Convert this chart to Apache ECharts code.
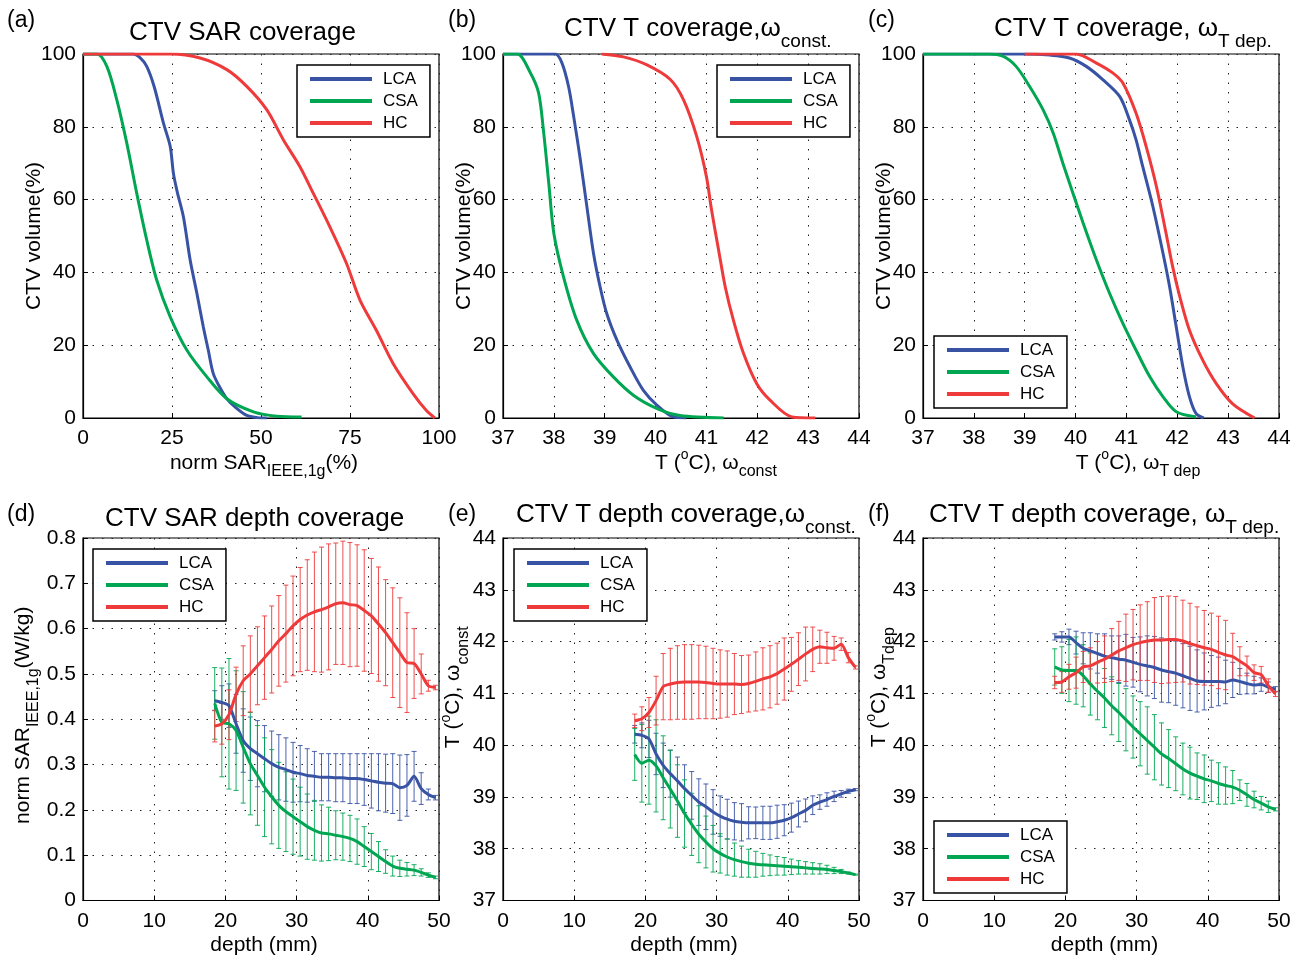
<!DOCTYPE html>
<html><head><meta charset="utf-8">
<script src="https://cdn.jsdelivr.net/npm/echarts@6.0.0/dist/echarts.min.js"></script>
<style>html,body{margin:0;padding:0;background:#fff}#c{width:1302px;height:962px}</style>
</head><body><div id="c"></div>
<script>
// ---------- data: top row (cumulative coverage curves) ----------
const aLcaX = [0, 14, 16, 17.9, 20, 22.6, 24.5, 25.4, 26.5, 28.2, 30.1, 32, 33.8, 35.2, 36.6, 38.5, 40.4, 43, 46, 49, 51.6];
const aLcaY = [100, 100, 99, 96.6, 91, 81, 74.6, 67.2, 62, 55.3, 43.4, 34.2, 25, 18.6, 12.2, 8.3, 5.3, 2.8, 0.7, 0.1, 0];
const aCsaX = [0, 3.9, 6.7, 9.5, 12.3, 15.1, 17.9, 20.7, 24.5, 29.2, 34.8, 40.4, 47.9, 54.4, 61.4];
const aCsaY = [100, 100, 96.6, 87.4, 75.5, 61.7, 48.9, 37.9, 27.8, 18.6, 11.3, 5.3, 1.7, 0.5, 0.3];
const aHcX = [0, 24.5, 32.9, 40.4, 46, 51.6, 56.3, 60.9, 64.7, 69.3, 74, 77.8, 82.4, 87.1, 92.7, 96.4, 98.8];
const aHcY = [100, 100, 98.9, 95.7, 91.1, 84.7, 76.4, 69.1, 61.7, 52.6, 42.5, 32.4, 24.1, 15, 6.7, 2.1, 0];

const bLcaX = [37, 38.03, 38.16, 38.29, 38.39, 38.52, 38.65, 38.78, 38.91, 39.04, 39.24, 39.5, 39.76, 40.03, 40.35, 40.6];
const bLcaY = [100, 100, 97.5, 91, 82.8, 71, 58, 45.2, 36, 28.7, 21.4, 14, 7.6, 3.5, 0.3, 0];
const bCsaX = [37, 37.28, 37.54, 37.7, 37.8, 37.9, 38.0, 38.19, 38.45, 38.78, 39.17, 39.57, 40.03, 40.48, 41.34];
const bCsaY = [100, 100, 94.8, 89.3, 78.4, 64.5, 50.7, 38.8, 26.9, 17.7, 11.3, 6.2, 2.6, 0.7, 0];
const bHcX = [38.94, 39.37, 39.83, 40.29, 40.55, 40.81, 41.0, 41.1, 41.24, 41.37, 41.53, 41.73, 41.99, 42.25, 42.68, 43.14];
const bHcY = [100, 99.2, 97, 93, 87.4, 77.3, 66.3, 57.2, 46.1, 36, 26.9, 17.7, 9.4, 4.9, 0.3, 0];

const cLcaX = [37, 39.0, 39.5, 39.88, 40.21, 40.54, 40.87, 41.06, 41.19, 41.32, 41.52, 41.72, 41.85, 41.98, 42.11, 42.24, 42.37, 42.52];
const cLcaY = [100, 100, 99.7, 98.9, 96.6, 92.9, 88.3, 81.9, 76.4, 69.1, 58.1, 45.2, 36, 25, 14, 5.8, 1.2, 0];
const cCsaX = [37, 38.3, 38.57, 38.83, 39.1, 39.36, 39.56, 39.75, 39.95, 40.15, 40.41, 40.67, 40.93, 41.19, 41.46, 41.72, 41.98, 42.37];
const cCsaY = [100, 100, 99.4, 96.6, 91, 84.7, 78.3, 70, 61.7, 53.5, 43.4, 34.2, 26, 18.6, 11.3, 5.8, 1.7, 0.3];
const cHcX = [39.0, 40.01, 40.41, 40.73, 40.93, 41.19, 41.39, 41.59, 41.78, 41.91, 42.05, 42.24, 42.5, 42.77, 43.09, 43.52];
const cHcY = [100, 100, 97.5, 94.8, 92, 83.7, 74.5, 63.6, 50.7, 41.5, 33.3, 24.1, 15.9, 9.4, 3.9, 0];

// ---------- data: bottom row (depth profiles, mean and spread) ----------
const depth = [18.5, 19.5, 20.5, 21.5, 22.5, 23.5, 24.5, 25.5, 26.5, 27.5, 28.5, 29.5, 30.5, 31.5, 32.5, 33.5,
               34.5, 35.5, 36.5, 37.5, 38.5, 39.5, 40.5, 41.5, 42.5, 43.5, 44.5, 45.5, 46.5, 47.5, 48.5, 49.5];

const dLcaMean = [0.441,0.437,0.43,0.39,0.353,0.335,0.324,0.313,0.302,0.294,0.289,0.283,0.28,0.276,0.274,0.272,0.272,0.271,0.271,0.269,0.269,0.267,0.264,0.261,0.259,0.258,0.249,0.254,0.274,0.247,0.234,0.227];
const dLcaSd   = [0.022,0.037,0.048,0.065,0.07,0.07,0.073,0.073,0.072,0.072,0.07,0.066,0.062,0.059,0.055,0.052,0.052,0.053,0.053,0.055,0.055,0.057,0.06,0.063,0.064,0.066,0.072,0.068,0.055,0.035,0.012,0.005];
const dCsaMean = [0.435,0.393,0.39,0.375,0.338,0.302,0.276,0.25,0.229,0.21,0.196,0.185,0.174,0.163,0.155,0.149,0.147,0.144,0.141,0.137,0.13,0.119,0.108,0.097,0.086,0.076,0.071,0.069,0.067,0.062,0.056,0.051];
const dCsaSd   = [0.079,0.12,0.144,0.132,0.123,0.113,0.11,0.109,0.104,0.095,0.088,0.083,0.076,0.072,0.066,0.062,0.059,0.054,0.052,0.051,0.05,0.044,0.04,0.033,0.026,0.022,0.018,0.015,0.012,0.008,0.005,0.003];
const dHcMean  = [0.385,0.39,0.41,0.455,0.485,0.50,0.518,0.536,0.554,0.573,0.589,0.606,0.62,0.63,0.637,0.642,0.648,0.655,0.657,0.653,0.651,0.64,0.628,0.61,0.591,0.569,0.547,0.525,0.523,0.50,0.474,0.47];
const dHcSd    = [0.035,0.045,0.055,0.06,0.077,0.084,0.086,0.092,0.096,0.1,0.107,0.11,0.115,0.122,0.132,0.138,0.139,0.134,0.136,0.137,0.134,0.134,0.127,0.126,0.117,0.121,0.121,0.11,0.077,0.044,0.012,0.005];

const eLcaMean = [40.21,40.19,40.12,39.83,39.61,39.45,39.31,39.16,39.03,38.9,38.81,38.71,38.63,38.57,38.53,38.51,38.5,38.5,38.5,38.5,38.52,38.55,38.6,38.67,38.74,38.84,38.9,38.95,39.01,39.06,39.11,39.14];
const eLcaSd   = [0.17,0.24,0.36,0.4,0.43,0.455,0.46,0.46,0.46,0.45,0.44,0.43,0.39,0.385,0.36,0.36,0.31,0.305,0.32,0.32,0.32,0.3,0.28,0.25,0.22,0.18,0.14,0.13,0.1,0.065,0.04,0.02];
const eCsaMean = [39.82,39.65,39.71,39.6,39.37,39.15,38.92,38.68,38.47,38.28,38.13,38.0,37.91,37.84,37.79,37.75,37.72,37.7,37.69,37.68,37.67,37.66,37.65,37.64,37.63,37.62,37.61,37.6,37.58,37.56,37.53,37.5];
const eCsaSd   = [0.5,0.75,0.85,0.89,0.81,0.75,0.7,0.65,0.6,0.55,0.5,0.45,0.38,0.35,0.32,0.3,0.27,0.25,0.22,0.2,0.18,0.17,0.15,0.13,0.12,0.11,0.1,0.08,0.06,0.04,0.02,0.01];
const eHcMean  = [40.47,40.51,40.63,40.86,41.13,41.18,41.21,41.22,41.22,41.22,41.21,41.19,41.18,41.18,41.18,41.17,41.19,41.23,41.28,41.32,41.38,41.47,41.56,41.66,41.76,41.85,41.9,41.88,41.87,41.95,41.69,41.5];
const eHcSd    = [0.13,0.23,0.29,0.47,0.64,0.69,0.71,0.72,0.72,0.71,0.7,0.68,0.66,0.64,0.59,0.56,0.55,0.57,0.6,0.6,0.59,0.6,0.52,0.51,0.52,0.43,0.32,0.3,0.23,0.12,0.1,0.03];

const fLcaMean = [42.09,42.09,42.09,41.98,41.87,41.82,41.77,41.72,41.69,41.66,41.64,41.6,41.56,41.53,41.5,41.45,41.42,41.39,41.34,41.29,41.24,41.23,41.23,41.23,41.22,41.26,41.23,41.19,41.16,41.17,41.12,41.08];
const fLcaSd   = [0.06,0.1,0.15,0.22,0.3,0.35,0.38,0.43,0.42,0.45,0.5,0.48,0.53,0.58,0.6,0.62,0.6,0.62,0.62,0.62,0.6,0.55,0.5,0.47,0.42,0.34,0.25,0.2,0.17,0.13,0.1,0.05];
const fCsaMean = [41.51,41.45,41.44,41.44,41.34,41.18,41.04,40.91,40.76,40.63,40.49,40.35,40.22,40.09,39.96,39.83,39.74,39.64,39.54,39.46,39.4,39.35,39.31,39.26,39.22,39.19,39.13,39.04,38.95,38.88,38.81,38.76];
const fCsaSd   = [0.35,0.45,0.6,0.65,0.6,0.6,0.55,0.57,0.56,0.56,0.6,0.6,0.62,0.65,0.63,0.6,0.56,0.52,0.5,0.5,0.45,0.46,0.4,0.4,0.36,0.32,0.2,0.22,0.16,0.13,0.11,0.03];
const fHcMean  = [41.21,41.22,41.32,41.4,41.51,41.53,41.6,41.66,41.74,41.82,41.88,41.94,41.98,42.01,42.03,42.03,42.04,42.04,42.01,41.96,41.92,41.88,41.85,41.79,41.74,41.71,41.62,41.53,41.4,41.36,41.15,40.99];
const fHcSd    = [0.12,0.2,0.24,0.3,0.3,0.35,0.4,0.45,0.51,0.57,0.65,0.68,0.73,0.76,0.82,0.84,0.84,0.83,0.79,0.78,0.75,0.72,0.7,0.7,0.67,0.45,0.28,0.19,0.15,0.16,0.13,0.05];

// ---------- labels ----------
const seriesNames = ['LCA', 'CSA', 'HC'];
const panelLabels = ['(a)', '(b)', '(c)', '(d)', '(e)', '(f)'];

// ---------- styling ----------
const FONT = '"Liberation Sans", Arial, Helvetica, sans-serif';
const COL = { LCA: '#3853A4', CSA: '#00A651', HC: '#EE3A3A' };

function richSet(mainSize, subSize, subPad, lh) {
  return {
    m: { fontSize: mainSize, lineHeight: lh, verticalAlign: 'top', padding: [4, 0, 0, 0], fontFamily: FONT, color: '#000' },
    s: { fontSize: subSize, lineHeight: lh, verticalAlign: 'top', padding: [subPad, 0, 0, 0], fontFamily: FONT, color: '#000' },
    p: { fontSize: 14, lineHeight: lh, verticalAlign: 'top', padding: [0, 0, 0, 0], fontFamily: FONT, color: '#000' }
  };
}
const richX = richSet(21, 16, 15, 30);
const richY = richSet(21, 16, 17, 30);
const richT = richSet(26, 19, 20, 32);

const gridPos = [[83, 54], [503, 54], [923, 54], [83, 538], [503, 538], [923, 538]];
const grids = gridPos.map(p => ({
  left: p[0], top: p[1], width: 356, height: 364,
  show: true, borderColor: '#000', borderWidth: 1.2, backgroundColor: 'transparent'
}));

function axisCommon(gi) {
  return {
    gridIndex: gi,
    axisLine: { show: true, onZero: false, lineStyle: { color: '#000', width: 1.2 } },
    axisTick: { show: true, inside: true, length: 5, lineStyle: { color: '#000', width: 1 } },
    splitLine: { show: true, lineStyle: { color: '#222', width: 1, type: [1.5, 8] } },
    nameLocation: 'middle',
    nameMoveOverlap: false
  };
}
function xAx(gi, min, max, interval, name, pad) {
  return Object.assign(axisCommon(gi), {
    type: 'value', position: 'bottom', min, max, interval, name, nameGap: 30.5,
    axisLabel: { fontSize: 21, fontFamily: FONT, color: '#000', margin: 10 },
    nameTextStyle: { rich: richX, fontSize: 21, lineHeight: 30, verticalAlign: 'top', fontFamily: FONT, color: '#000', padding: [0, 0, 0, pad] }
  });
}
function yAx(gi, min, max, interval, name, gap, pad, rich) {
  const ax = Object.assign(axisCommon(gi), {
    type: 'value', position: 'left', min, max, interval, name, nameGap: gap, nameRotate: 90,
    axisLabel: { fontSize: 21, fontFamily: FONT, color: '#000', margin: 7 },
    nameTextStyle: { fontSize: 21, lineHeight: rich ? 30 : 22, verticalAlign: 'bottom', fontFamily: FONT, color: '#000', padding: [0, 0, 0, pad] }
  });
  if (rich) ax.nameTextStyle.rich = richY;
  return ax;
}

const xAxes = [
  xAx(0, 0, 100, 25, '{m|norm SAR}{s|IEEE,1g}{m|(%)}', 6),
  xAx(1, 37, 44, 1, '{m|T (}{p|o}{m|C), ω}{s|const}', 70),
  xAx(2, 37, 44, 1, '{m|T (}{p|o}{m|C), ω}{s|T dep}', 74),
  xAx(3, 0, 50, 10, '{m|depth (mm)}', 6),
  xAx(4, 0, 50, 10, '{m|depth (mm)}', 6),
  xAx(5, 0, 50, 10, '{m|depth (mm)}', 7)
];
const yAxes = [
  yAx(0, 0, 100, 20, 'CTV volume(%)', 37.5, 0, false),
  yAx(1, 0, 100, 20, 'CTV volume(%)', 28, 0, false),
  yAx(2, 0, 100, 20, 'CTV volume(%)', 28, 0, false),
  yAx(3, 0, 0.8, 0.1, '{m|norm SAR}{s|IEEE,1g}{m|(W/kg)}', 44, 8, true),
  yAx(4, 37, 44, 1, '{m|T (}{p|o}{m|C), ω}{s|const}', 34, 64, true),
  yAx(5, 37, 44, 1, '{m|T (}{p|o}{m|C), ω}{s|Tdep}', 28.5, 64, true)
];

function lineSeries(name, xs, ys, gi, smooth) {
  return {
    type: 'line', name, xAxisIndex: gi, yAxisIndex: gi,
    data: xs.map((x, i) => [x, ys[i]]),
    showSymbol: false, symbol: 'none', color: COL[name],
    smooth: smooth,
    lineStyle: { width: 3, color: COL[name] },
    silent: true, animation: false, clip: true
  };
}
function errSeries(name, xs, mean, sd, gi) {
  const c = COL[name];
  return {
    type: 'custom', name: name + ' spread', xAxisIndex: gi, yAxisIndex: gi,
    data: xs.map((x, i) => [x, mean[i] - sd[i], mean[i] + sd[i]]),
    encode: { x: 0, y: [1, 2] }, silent: true, animation: false, clip: true,
    renderItem: function (params, api) {
      const x = api.value(0);
      const lo = api.coord([x, api.value(1)]);
      const hi = api.coord([x, api.value(2)]);
      const w = 2.5;
      const st = { stroke: c, lineWidth: 1, opacity: 0.9 };
      return {
        type: 'group', children: [
          { type: 'line', shape: { x1: lo[0], y1: lo[1], x2: hi[0], y2: hi[1] }, style: st },
          { type: 'line', shape: { x1: lo[0] - w, y1: lo[1], x2: lo[0] + w, y2: lo[1] }, style: st },
          { type: 'line', shape: { x1: hi[0] - w, y1: hi[1], x2: hi[0] + w, y2: hi[1] }, style: st }
        ]
      };
    }
  };
}

const S1 = 0.3, S2 = 0.25;
const series = [
  lineSeries('LCA', aLcaX, aLcaY, 0, S1), lineSeries('CSA', aCsaX, aCsaY, 0, S1), lineSeries('HC', aHcX, aHcY, 0, S1),
  lineSeries('LCA', bLcaX, bLcaY, 1, S1), lineSeries('CSA', bCsaX, bCsaY, 1, S1), lineSeries('HC', bHcX, bHcY, 1, S1),
  lineSeries('LCA', cLcaX, cLcaY, 2, S1), lineSeries('CSA', cCsaX, cCsaY, 2, S1), lineSeries('HC', cHcX, cHcY, 2, S1),
  errSeries('LCA', depth, dLcaMean, dLcaSd, 3), lineSeries('LCA', depth, dLcaMean, 3, S2),
  errSeries('CSA', depth, dCsaMean, dCsaSd, 3), lineSeries('CSA', depth, dCsaMean, 3, S2),
  errSeries('HC', depth, dHcMean, dHcSd, 3), lineSeries('HC', depth, dHcMean, 3, S2),
  errSeries('LCA', depth, eLcaMean, eLcaSd, 4), lineSeries('LCA', depth, eLcaMean, 4, S2),
  errSeries('CSA', depth, eCsaMean, eCsaSd, 4), lineSeries('CSA', depth, eCsaMean, 4, S2),
  errSeries('HC', depth, eHcMean, eHcSd, 4), lineSeries('HC', depth, eHcMean, 4, S2),
  errSeries('LCA', depth, fLcaMean, fLcaSd, 5), lineSeries('LCA', depth, fLcaMean, 5, S2),
  errSeries('CSA', depth, fCsaMean, fCsaSd, 5), lineSeries('CSA', depth, fCsaMean, 5, S2),
  errSeries('HC', depth, fHcMean, fHcSd, 5), lineSeries('HC', depth, fHcMean, 5, S2)
];

const legendPos = [[297, 65], [717, 65], [934, 336], [93, 549], [514, 549], [934, 821]];
const legends = legendPos.map(p => ({
  left: p[0], top: p[1], data: seriesNames, orient: 'vertical', icon: 'rect',
  itemWidth: 62, itemHeight: 4, itemGap: 4, padding: [5, 12, 5, 13],
  backgroundColor: '#fff', borderColor: '#000', borderWidth: 1.5, selectedMode: false,
  textStyle: { fontSize: 17, lineHeight: 18, fontFamily: FONT, color: '#000', padding: [0, 0, 0, 6] }
}));

const plainT = { fontSize: 26, lineHeight: 30, fontWeight: 'normal', fontFamily: FONT, color: '#000' };
const richTitle = { rich: richT, fontWeight: 'normal' };
const titles = [
  { text: 'CTV SAR coverage', left: 129, top: 18, padding: 0, textStyle: plainT },
  { text: '{m|CTV T coverage,ω}{s|const.}', left: 564, top: 12, padding: 0, textStyle: richTitle },
  { text: '{m|CTV T coverage, ω}{s|T dep.}', left: 994, top: 12, padding: 0, textStyle: richTitle },
  { text: 'CTV SAR depth coverage', left: 105, top: 504, padding: 0, textStyle: plainT },
  { text: '{m|CTV T depth coverage,ω}{s|const.}', left: 516, top: 498, padding: 0, textStyle: richTitle },
  { text: '{m|CTV T depth coverage, ω}{s|T dep.}', left: 929, top: 498, padding: 0, textStyle: richTitle }
];
const labelPos = [[7, 9], [448, 9], [868, 9], [7, 503], [448, 503], [868, 503]];
panelLabels.forEach((t, i) => titles.push({
  text: t, left: labelPos[i][0], top: labelPos[i][1], padding: 0,
  textStyle: { fontSize: 23, lineHeight: 24, fontWeight: 'normal', fontFamily: FONT, color: '#000' }
}));

const chart = echarts.init(document.getElementById('c'), null, { renderer: 'canvas' });
chart.setOption({
  animation: false,
  backgroundColor: '#fff',
  title: titles,
  legend: legends,
  grid: grids,
  xAxis: xAxes,
  yAxis: yAxes,
  series: series
});
</script></body></html>
